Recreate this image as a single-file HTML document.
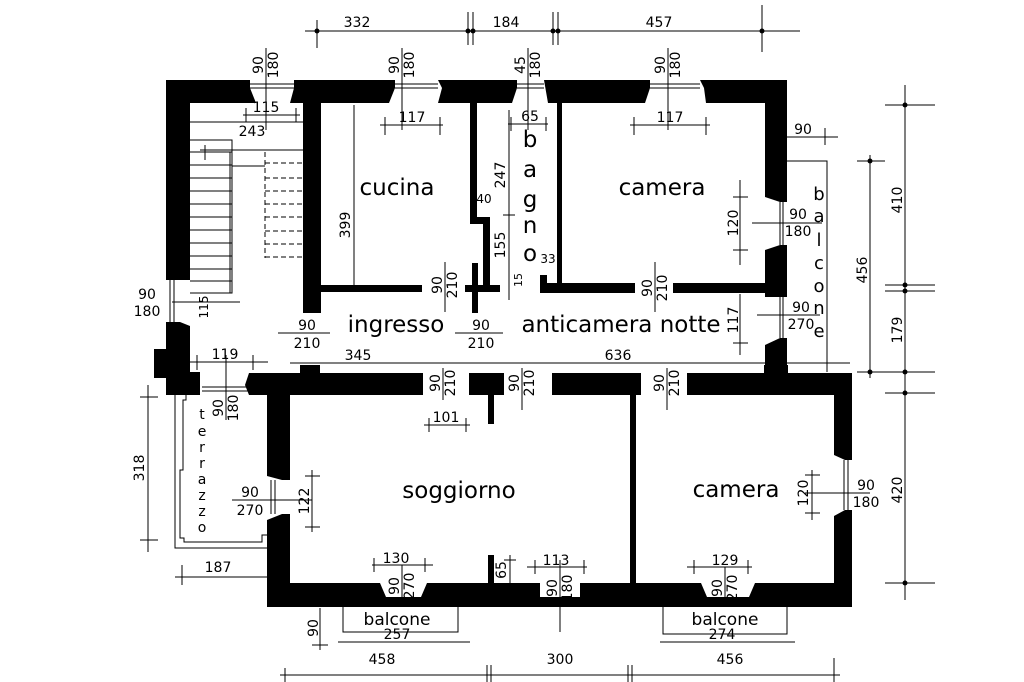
<!DOCTYPE html>
<html><head><meta charset="utf-8"><style>
html,body{margin:0;padding:0;background:#fff;}
svg{display:block;}
text{font-family:"DejaVu Sans","Liberation Sans",sans-serif;fill:#000;}
.s{font-size:14px;}
.r{font-size:23px;}
</style></head><body>
<svg width="1024" height="682" viewBox="0 0 1024 682" xmlns="http://www.w3.org/2000/svg">
<rect width="1024" height="682" fill="#fff"/>
<g fill="#000" stroke="none">
<polygon points="166,80 250,80 250,88 256,103 190,103 190,280 166,280"/>
<polygon points="294,80 395,80 395,88 389,103 321,103 321,313 303,313 303,103 290,103 294,88"/>
<polygon points="438,80 517,80 517,88 512,103 438,103 442,88"/>
<polygon points="544,80 650,80 650,88 645,103 562,103 562,285 557,285 557,103 548,103"/>
<polygon points="700,80 787,80 787,202 780,202 765,197 765,103 706,103 704,88"/>
<polygon points="470,103 477,103 477,217 490,217 490,285 500,285 500,292 465,292 465,285 483,285 483,224 470,224"/>
<rect x="472" y="263" width="6" height="50"/>
<rect x="321" y="285" width="101" height="7"/>
<rect x="540" y="283" width="95" height="10"/>
<rect x="540" y="275" width="7" height="10"/>
<rect x="673" y="283" width="112" height="10"/>
<polygon points="765,250 780,245 787,245 787,297 765,297"/>
<polygon points="765,345 780,338 787,338 787,372 765,372"/>
<polygon points="166,322 180,322 190,326 190,372 200,372 200,395 166,395"/>
<rect x="154" y="349" width="14" height="29"/>
<polygon points="249,373 423,373 423,395 290,395 290,480 282,480 267,476 267,395 249,395 245,385"/>
<polygon points="267,520 282,514 290,514 290,583 380,583 386,597 421,597 427,583 540,583 540,597 580,597 580,583 701,583 707,597 749,597 755,583 834,583 834,516 845,510 852,510 852,607 267,607"/>
<polygon points="834,395 687,395 687,373 852,373 852,460 845,460 834,455"/>
<rect x="469" y="373" width="35" height="22"/>
<rect x="488" y="395" width="6" height="29"/>
<rect x="552" y="373" width="89" height="22"/>
<rect x="630" y="395" width="6" height="188"/>
<rect x="488" y="555" width="6" height="28"/>
<rect x="300" y="365" width="20" height="10"/>
<rect x="764" y="365" width="24" height="10"/>
<circle cx="317" cy="31" r="2.5"/><circle cx="468" cy="31" r="2.5"/><circle cx="473" cy="31" r="2.5"/><circle cx="553" cy="31" r="2.5"/><circle cx="558" cy="31" r="2.5"/><circle cx="762" cy="31" r="2.5"/>
<circle cx="905" cy="105" r="2.5"/><circle cx="905" cy="285" r="2.5"/><circle cx="905" cy="291" r="2.5"/><circle cx="905" cy="372" r="2.5"/><circle cx="905" cy="393" r="2.5"/><circle cx="905" cy="583" r="2.5"/>
<circle cx="870" cy="161" r="2.5"/><circle cx="870" cy="372" r="2.5"/>
</g>
<g stroke="#000" fill="none" stroke-width="1">
<line x1="250" y1="84" x2="294" y2="84"/><line x1="250" y1="88" x2="294" y2="88"/>
<line x1="395" y1="84" x2="438" y2="84"/><line x1="395" y1="88" x2="438" y2="88"/>
<line x1="517" y1="84" x2="544" y2="84"/><line x1="517" y1="88" x2="544" y2="88"/>
<line x1="650" y1="84" x2="700" y2="84"/><line x1="650" y1="88" x2="700" y2="88"/>
<line x1="783" y1="202" x2="783" y2="245"/><line x1="780" y1="202" x2="780" y2="245"/>
<line x1="783" y1="297" x2="783" y2="338"/><line x1="780" y1="297" x2="780" y2="338"/>
<line x1="170" y1="280" x2="170" y2="322"/><line x1="174" y1="280" x2="174" y2="322"/>
<line x1="202" y1="387" x2="249" y2="387"/><line x1="202" y1="391" x2="249" y2="391"/>
<line x1="271" y1="480" x2="271" y2="514"/><line x1="275" y1="480" x2="275" y2="514"/>
<line x1="848" y1="460" x2="848" y2="510"/><line x1="844" y1="460" x2="844" y2="510"/>
<line x1="380" y1="600" x2="421" y2="600"/><line x1="380" y1="604" x2="421" y2="604"/>
<line x1="540" y1="600" x2="580" y2="600"/><line x1="540" y1="604" x2="580" y2="604"/>
<line x1="701" y1="600" x2="749" y2="600"/><line x1="701" y1="604" x2="749" y2="604"/>
<polyline points="190,140 232,140 232,293 190,293"/>
<line x1="232" y1="150" x2="303" y2="150"/>
<line x1="190" y1="152" x2="232" y2="152"/>
<line x1="190" y1="165" x2="232" y2="165"/><line x1="190" y1="178" x2="232" y2="178"/>
<line x1="190" y1="191" x2="232" y2="191"/><line x1="190" y1="204" x2="232" y2="204"/>
<line x1="190" y1="217" x2="232" y2="217"/><line x1="190" y1="230" x2="232" y2="230"/>
<line x1="190" y1="243" x2="232" y2="243"/><line x1="190" y1="256" x2="232" y2="256"/>
<line x1="190" y1="269" x2="232" y2="269"/><line x1="190" y1="281" x2="232" y2="281"/>
<line x1="230" y1="152" x2="230" y2="293"/>
<line x1="232" y1="166" x2="265" y2="166"/>
<g stroke-dasharray="5,3">
<line x1="265" y1="152" x2="265" y2="258"/>
<line x1="265" y1="163" x2="303" y2="163"/><line x1="265" y1="178" x2="303" y2="178"/>
<line x1="265" y1="191" x2="303" y2="191"/><line x1="265" y1="204" x2="303" y2="204"/>
<line x1="265" y1="217" x2="303" y2="217"/><line x1="265" y1="231" x2="303" y2="231"/>
<line x1="265" y1="244" x2="303" y2="244"/><line x1="265" y1="257" x2="303" y2="257"/>
</g>
<polyline points="787,161 827,161 827,372"/>
<polyline points="175,395 175,548 267,548"/>
<polyline points="186,395 186,400 183,400 183,470 180,470 180,538 184,538 184,542 262,542 262,535 267,535"/>
<polyline points="343,607 343,632 458,632 458,607"/>
<polyline points="663,607 663,634 787,634 787,607"/>
<line x1="305" y1="31" x2="800" y2="31"/>
<line x1="317" y1="20" x2="317" y2="48"/><line x1="468" y1="12" x2="468" y2="45"/><line x1="473" y1="12" x2="473" y2="45"/>
<line x1="553" y1="12" x2="553" y2="45"/><line x1="558" y1="12" x2="558" y2="45"/><line x1="762" y1="5" x2="762" y2="52"/>
<line x1="280" y1="675" x2="840" y2="675"/>
<line x1="285" y1="668" x2="285" y2="682"/><line x1="487" y1="665" x2="487" y2="682"/><line x1="491" y1="665" x2="491" y2="682"/>
<line x1="628" y1="665" x2="628" y2="682"/><line x1="632" y1="665" x2="632" y2="682"/><line x1="834" y1="658" x2="834" y2="682"/>
<line x1="905" y1="85" x2="905" y2="600"/>
<line x1="885" y1="105" x2="935" y2="105"/><line x1="885" y1="285" x2="935" y2="285"/><line x1="885" y1="291" x2="935" y2="291"/>
<line x1="885" y1="372" x2="935" y2="372"/><line x1="885" y1="393" x2="935" y2="393"/><line x1="885" y1="583" x2="935" y2="583"/>
<line x1="870" y1="155" x2="870" y2="378"/><line x1="857" y1="161" x2="885" y2="161"/><line x1="857" y1="372" x2="885" y2="372"/>
<line x1="787" y1="137" x2="838" y2="137"/><line x1="825" y1="128" x2="825" y2="145"/>
<line x1="148" y1="385" x2="148" y2="552"/><line x1="140" y1="397" x2="158" y2="397"/><line x1="140" y1="540" x2="158" y2="540"/>
<line x1="175" y1="577" x2="267" y2="577"/><line x1="182" y1="565" x2="182" y2="585"/>
<line x1="320" y1="608" x2="320" y2="650"/><line x1="312" y1="645" x2="328" y2="645"/>
<line x1="338" y1="642" x2="470" y2="642"/><line x1="660" y1="642" x2="795" y2="642"/>
<line x1="290" y1="363" x2="850" y2="363"/>
<line x1="190" y1="122" x2="303" y2="122"/>
<line x1="200" y1="150" x2="303" y2="150"/>
<line x1="205" y1="145" x2="205" y2="160"/>
<line x1="243" y1="115" x2="300" y2="115"/><line x1="246" y1="108" x2="246" y2="122"/><line x1="296" y1="108" x2="296" y2="122"/>
<line x1="380" y1="125" x2="443" y2="125"/><line x1="385" y1="117" x2="385" y2="135"/><line x1="440" y1="117" x2="440" y2="135"/>
<line x1="630" y1="125" x2="710" y2="125"/><line x1="634" y1="117" x2="634" y2="135"/><line x1="706" y1="117" x2="706" y2="135"/>
<line x1="508" y1="124" x2="548" y2="124"/><line x1="511" y1="117" x2="511" y2="131"/><line x1="546" y1="117" x2="546" y2="131"/>
<line x1="509" y1="110" x2="509" y2="300"/><line x1="503" y1="215" x2="515" y2="215"/>
<line x1="354" y1="105" x2="354" y2="285"/>
<line x1="740" y1="180" x2="740" y2="265"/><line x1="733" y1="197" x2="748" y2="197"/><line x1="733" y1="250" x2="748" y2="250"/>
<line x1="752" y1="223" x2="822" y2="223"/>
<line x1="740" y1="294" x2="740" y2="355"/><line x1="733" y1="343" x2="748" y2="343"/>
<line x1="757" y1="315" x2="820" y2="315"/>
<line x1="172" y1="302" x2="240" y2="302"/>
<line x1="174" y1="362" x2="268" y2="362"/><line x1="197" y1="355" x2="197" y2="370"/><line x1="253" y1="355" x2="253" y2="370"/>
<line x1="226" y1="355" x2="226" y2="420"/>
<line x1="424" y1="425" x2="470" y2="425"/><line x1="429" y1="418" x2="429" y2="432"/><line x1="466" y1="418" x2="466" y2="432"/>
<line x1="312" y1="470" x2="312" y2="532"/><line x1="305" y1="476" x2="320" y2="476"/><line x1="305" y1="527" x2="320" y2="527"/>
<line x1="232" y1="500" x2="312" y2="500"/>
<line x1="812" y1="470" x2="812" y2="520"/><line x1="805" y1="493" x2="870" y2="493"/><line x1="805" y1="475" x2="820" y2="475"/><line x1="805" y1="513" x2="820" y2="513"/>
<line x1="372" y1="565" x2="433" y2="565"/><line x1="374" y1="558" x2="374" y2="572"/><line x1="425" y1="558" x2="425" y2="572"/>
<line x1="402" y1="565" x2="402" y2="605"/>
<line x1="527" y1="567" x2="587" y2="567"/><line x1="535" y1="560" x2="535" y2="574"/><line x1="584" y1="560" x2="584" y2="574"/>
<line x1="560" y1="560" x2="560" y2="632"/>
<line x1="687" y1="567" x2="752" y2="567"/><line x1="694" y1="560" x2="694" y2="574"/><line x1="748" y1="560" x2="748" y2="574"/>
<line x1="725" y1="567" x2="725" y2="605"/>
<line x1="510" y1="555" x2="510" y2="583"/><line x1="504" y1="560" x2="516" y2="560"/>
<line x1="278" y1="333" x2="330" y2="333"/><line x1="455" y1="333" x2="503" y2="333"/>
<line x1="445" y1="262" x2="445" y2="312"/><line x1="655" y1="262" x2="655" y2="312"/>
<line x1="443" y1="368" x2="443" y2="400"/><line x1="522" y1="368" x2="522" y2="410"/><line x1="667" y1="368" x2="667" y2="410"/>
<line x1="402" y1="48" x2="402" y2="130"/><line x1="668" y1="48" x2="668" y2="130"/><line x1="528" y1="48" x2="528" y2="130"/><line x1="266" y1="48" x2="266" y2="130"/>
</g>
<text class="s" x="357" y="27" text-anchor="middle">332</text>
<text class="s" x="506" y="27" text-anchor="middle">184</text>
<text class="s" x="659" y="27" text-anchor="middle">457</text>
<text class="s" x="382" y="664" text-anchor="middle">458</text>
<text class="s" x="560" y="664" text-anchor="middle">300</text>
<text class="s" x="730" y="664" text-anchor="middle">456</text>
<g transform="translate(266,65) rotate(-90)"><text class="s" text-anchor="middle" y="-3">90</text><text class="s" text-anchor="middle" y="12">180</text></g>
<g transform="translate(402,65) rotate(-90)"><text class="s" text-anchor="middle" y="-3">90</text><text class="s" text-anchor="middle" y="12">180</text></g>
<g transform="translate(528,65) rotate(-90)"><text class="s" text-anchor="middle" y="-3">45</text><text class="s" text-anchor="middle" y="12">180</text></g>
<g transform="translate(668,65) rotate(-90)"><text class="s" text-anchor="middle" y="-3">90</text><text class="s" text-anchor="middle" y="12">180</text></g>
<g transform="translate(445,285) rotate(-90)"><text class="s" text-anchor="middle" y="-3">90</text><text class="s" text-anchor="middle" y="12">210</text></g>
<g transform="translate(655,288) rotate(-90)"><text class="s" text-anchor="middle" y="-3">90</text><text class="s" text-anchor="middle" y="12">210</text></g>
<g transform="translate(443,383) rotate(-90)"><text class="s" text-anchor="middle" y="-3">90</text><text class="s" text-anchor="middle" y="12">210</text></g>
<g transform="translate(522,383) rotate(-90)"><text class="s" text-anchor="middle" y="-3">90</text><text class="s" text-anchor="middle" y="12">210</text></g>
<g transform="translate(667,383) rotate(-90)"><text class="s" text-anchor="middle" y="-3">90</text><text class="s" text-anchor="middle" y="12">210</text></g>
<g transform="translate(226,408) rotate(-90)"><text class="s" text-anchor="middle" y="-3">90</text><text class="s" text-anchor="middle" y="12">180</text></g>
<g transform="translate(402,586) rotate(-90)"><text class="s" text-anchor="middle" y="-3">90</text><text class="s" text-anchor="middle" y="12">270</text></g>
<g transform="translate(560,588) rotate(-90)"><text class="s" text-anchor="middle" y="-3">90</text><text class="s" text-anchor="middle" y="12">180</text></g>
<g transform="translate(725,588) rotate(-90)"><text class="s" text-anchor="middle" y="-3">90</text><text class="s" text-anchor="middle" y="12">270</text></g>
<g transform="translate(350,225) rotate(-90)"><text class="s" text-anchor="middle">399</text></g>
<g transform="translate(505,175) rotate(-90)"><text class="s" text-anchor="middle">247</text></g>
<g transform="translate(505,245) rotate(-90)"><text class="s" text-anchor="middle">155</text></g>
<g transform="translate(522,280) rotate(-90)"><text style="font-size:11px" text-anchor="middle">15</text></g>
<g transform="translate(738,223) rotate(-90)"><text class="s" text-anchor="middle">120</text></g>
<g transform="translate(738,320) rotate(-90)"><text class="s" text-anchor="middle">117</text></g>
<g transform="translate(867,270) rotate(-90)"><text class="s" text-anchor="middle">456</text></g>
<g transform="translate(902,200) rotate(-90)"><text class="s" text-anchor="middle">410</text></g>
<g transform="translate(902,330) rotate(-90)"><text class="s" text-anchor="middle">179</text></g>
<g transform="translate(902,490) rotate(-90)"><text class="s" text-anchor="middle">420</text></g>
<g transform="translate(144,468) rotate(-90)"><text class="s" text-anchor="middle">318</text></g>
<g transform="translate(208,307) rotate(-90)"><text style="font-size:12px" text-anchor="middle">115</text></g>
<g transform="translate(309,501) rotate(-90)"><text class="s" text-anchor="middle">122</text></g>
<g transform="translate(808,493) rotate(-90)"><text class="s" text-anchor="middle">120</text></g>
<g transform="translate(506,570) rotate(-90)"><text class="s" text-anchor="middle">65</text></g>
<g transform="translate(318,628) rotate(-90)"><text class="s" text-anchor="middle">90</text></g>
<text class="s" x="266" y="112" text-anchor="middle">115</text>
<text class="s" x="252" y="136" text-anchor="middle">243</text>
<text class="s" x="412" y="122" text-anchor="middle">117</text>
<text class="s" x="670" y="122" text-anchor="middle">117</text>
<text class="s" x="530" y="121" text-anchor="middle">65</text>
<text style="font-size:12px" x="484" y="203" text-anchor="middle">40</text>
<text style="font-size:12px" x="548" y="263" text-anchor="middle">33</text>
<text class="s" x="803" y="134" text-anchor="middle">90</text>
<text class="s" x="798" y="219" text-anchor="middle">90</text>
<text class="s" x="798" y="236" text-anchor="middle">180</text>
<text class="s" x="801" y="312" text-anchor="middle">90</text>
<text class="s" x="801" y="329" text-anchor="middle">270</text>
<text class="s" x="147" y="299" text-anchor="middle">90</text>
<text class="s" x="147" y="316" text-anchor="middle">180</text>
<text class="s" x="307" y="330" text-anchor="middle">90</text>
<text class="s" x="307" y="348" text-anchor="middle">210</text>
<text class="s" x="481" y="330" text-anchor="middle">90</text>
<text class="s" x="481" y="348" text-anchor="middle">210</text>
<text class="s" x="358" y="360" text-anchor="middle">345</text>
<text class="s" x="618" y="360" text-anchor="middle">636</text>
<text class="s" x="225" y="359" text-anchor="middle">119</text>
<text class="s" x="446" y="422" text-anchor="middle">101</text>
<text class="s" x="250" y="497" text-anchor="middle">90</text>
<text class="s" x="250" y="515" text-anchor="middle">270</text>
<text class="s" x="866" y="490" text-anchor="middle">90</text>
<text class="s" x="866" y="507" text-anchor="middle">180</text>
<text class="s" x="396" y="563" text-anchor="middle">130</text>
<text class="s" x="556" y="565" text-anchor="middle">113</text>
<text class="s" x="725" y="565" text-anchor="middle">129</text>
<text class="s" x="218" y="572" text-anchor="middle">187</text>
<text class="s" x="397" y="639" text-anchor="middle">257</text>
<text class="s" x="722" y="639" text-anchor="middle">274</text>
<text style="font-size:17px" x="397" y="625" text-anchor="middle">balcone</text>
<text style="font-size:17px" x="725" y="625" text-anchor="middle">balcone</text>
<text class="r" x="397" y="195" text-anchor="middle">cucina</text>
<text class="r" x="662" y="195" text-anchor="middle">camera</text>
<text class="r" x="396" y="332" text-anchor="middle">ingresso</text>
<text class="r" x="621" y="332" text-anchor="middle">anticamera notte</text>
<text class="r" x="459" y="498" text-anchor="middle">soggiorno</text>
<text class="r" x="736" y="497" text-anchor="middle">camera</text>
<g class="r" text-anchor="middle">
<text x="530" y="147">b</text><text x="530" y="177">a</text><text x="530" y="207">g</text><text x="530" y="233">n</text><text x="530" y="261">o</text>
</g>
<g style="font-size:18px" text-anchor="middle">
<text x="819" y="200">b</text><text x="819" y="222">a</text><text x="819" y="246">l</text><text x="819" y="269">c</text><text x="819" y="292">o</text><text x="819" y="314">n</text><text x="819" y="337">e</text>
</g>
<g style="font-size:14px" text-anchor="middle">
<text x="202" y="419">t</text><text x="202" y="436">e</text><text x="202" y="452">r</text><text x="202" y="468">r</text><text x="202" y="484">a</text><text x="202" y="500">z</text><text x="202" y="516">z</text><text x="202" y="532">o</text>
</g>
</svg>
</body></html>
